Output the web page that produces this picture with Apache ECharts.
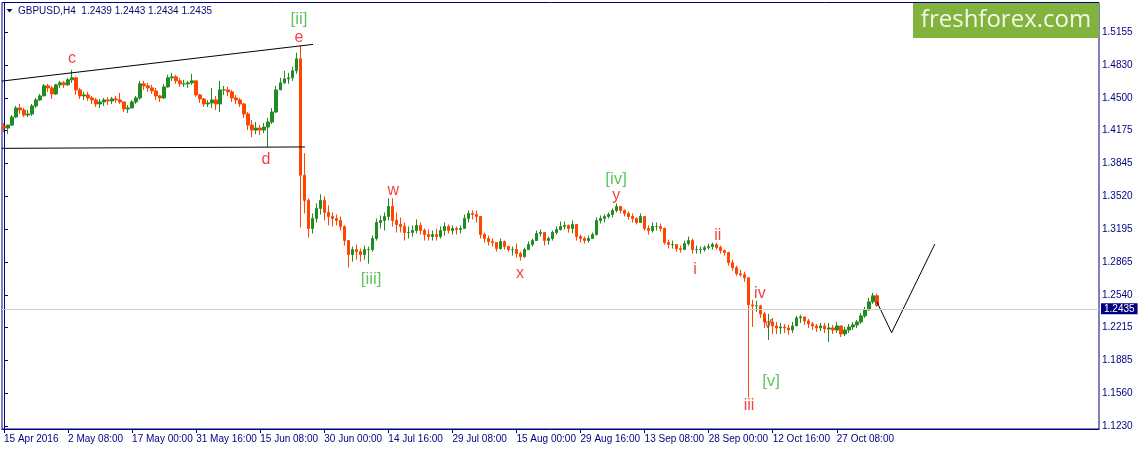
<!DOCTYPE html>
<html><head><meta charset="utf-8">
<script src="https://cdn.jsdelivr.net/npm/echarts@6/dist/echarts.min.js"></script>
<style>html,body{margin:0;padding:0;background:#fff}#c{width:1139px;height:450px}</style>
</head><body><div id="c"></div>
<script>
const tickLabels = ['15 Apr 2016','2 May 08:00','17 May 00:00','31 May 16:00','15 Jun 08:00','30 Jun 00:00','14 Jul 16:00','29 Jul 08:00','15 Aug 00:00','29 Aug 16:00','13 Sep 08:00','28 Sep 00:00','12 Oct 16:00','27 Oct 08:00'];
const yTicks = [1.5155,1.4830,1.4500,1.4175,1.3845,1.3520,1.3195,1.2865,1.2540,1.2215,1.1885,1.1560,1.1230];
const headerText = 'GBPUSD,H4  1.2439 1.2443 1.2434 1.2435';
const lastPrice = 1.2435;
const firstOpen = 1.422;
const closes = [
1.420,1.423,1.431,1.440,1.438,1.433,1.434,1.442,1.448,1.452,
1.462,1.460,1.454,1.463,1.465,1.463,1.468,1.470,1.458,1.452,
1.453,1.450,1.448,1.444,1.446,1.448,1.447,1.449,1.448,1.446,
1.439,1.440,1.446,1.450,1.464,1.462,1.460,1.457,1.452,1.450,
1.461,1.470,1.471,1.467,1.464,1.464,1.465,1.467,1.453,1.449,
1.444,1.445,1.448,1.444,1.458,1.458,1.456,1.450,1.448,1.444,
1.434,1.423,1.418,1.420,1.418,1.421,1.426,1.436,1.458,1.465,
1.469,1.470,1.477,1.489,1.373,1.348,1.320,1.330,1.340,1.348,
1.336,1.332,1.330,1.328,1.322,1.308,1.294,1.299,1.297,1.294,
1.299,1.299,1.310,1.326,1.328,1.332,1.342,1.328,1.324,1.322,
1.316,1.316,1.318,1.323,1.318,1.314,1.312,1.314,1.312,1.318,
1.322,1.318,1.320,1.319,1.320,1.330,1.335,1.334,1.332,1.314,
1.310,1.307,1.306,1.300,1.307,1.302,1.299,1.299,1.295,1.292,
1.299,1.304,1.308,1.315,1.316,1.308,1.310,1.316,1.319,1.322,
1.323,1.320,1.324,1.312,1.310,1.308,1.310,1.314,1.328,1.330,
1.332,1.334,1.338,1.342,1.338,1.335,1.332,1.330,1.326,1.332,
1.320,1.318,1.322,1.322,1.320,1.306,1.304,1.304,1.300,1.299,
1.305,1.308,1.299,1.299,1.299,1.301,1.302,1.304,1.301,1.298,
1.296,1.286,1.281,1.275,1.274,1.271,1.244,1.243,1.243,1.235,
1.227,1.227,1.223,1.221,1.222,1.221,1.219,1.223,1.231,1.232,
1.228,1.225,1.223,1.221,1.223,1.220,1.221,1.219,1.223,1.215,
1.219,1.222,1.224,1.227,1.233,1.239,1.247,1.253,1.2435];
const highs = [
1.425,1.423,1.433,1.442,1.444,1.440,1.438,1.444,1.450,1.454,
1.464,1.464,1.462,1.464,1.467,1.467,1.470,1.478,1.471,1.460,
1.456,1.456,1.452,1.450,1.449,1.450,1.451,1.451,1.452,1.455,
1.445,1.443,1.448,1.452,1.467,1.467,1.465,1.463,1.460,1.453,
1.464,1.473,1.475,1.473,1.470,1.468,1.467,1.474,1.467,1.454,
1.450,1.448,1.460,1.452,1.467,1.462,1.461,1.458,1.453,1.450,
1.445,1.436,1.428,1.426,1.423,1.425,1.430,1.440,1.462,1.470,
1.477,1.475,1.481,1.495,1.502,1.395,1.350,1.335,1.345,1.354,
1.352,1.343,1.336,1.334,1.332,1.323,1.308,1.302,1.304,1.300,
1.303,1.302,1.313,1.330,1.333,1.336,1.350,1.350,1.336,1.331,
1.326,1.322,1.323,1.329,1.326,1.320,1.319,1.318,1.320,1.322,
1.326,1.324,1.323,1.322,1.323,1.334,1.338,1.338,1.338,1.332,
1.316,1.313,1.310,1.306,1.310,1.308,1.303,1.302,1.305,1.297,
1.301,1.307,1.310,1.318,1.319,1.314,1.312,1.318,1.322,1.327,
1.327,1.324,1.328,1.323,1.314,1.312,1.313,1.316,1.331,1.333,
1.334,1.336,1.340,1.345,1.342,1.339,1.337,1.335,1.331,1.335,
1.332,1.323,1.326,1.326,1.325,1.321,1.309,1.308,1.304,1.303,
1.308,1.312,1.310,1.303,1.302,1.303,1.305,1.306,1.306,1.303,
1.299,1.297,1.289,1.283,1.279,1.277,1.271,1.249,1.248,1.244,
1.237,1.235,1.231,1.227,1.226,1.225,1.224,1.227,1.233,1.234,
1.232,1.230,1.227,1.225,1.226,1.226,1.226,1.224,1.227,1.221,
1.222,1.225,1.227,1.229,1.236,1.242,1.251,1.256,1.255];
const lows = [
1.416,1.414,1.422,1.430,1.434,1.431,1.431,1.432,1.440,1.447,
1.452,1.456,1.449,1.453,1.460,1.460,1.462,1.465,1.453,1.449,
1.448,1.447,1.444,1.441,1.440,1.442,1.443,1.444,1.445,1.444,
1.436,1.435,1.440,1.444,1.448,1.458,1.456,1.454,1.448,1.446,
1.449,1.460,1.467,1.464,1.461,1.461,1.460,1.463,1.451,1.445,
1.441,1.441,1.440,1.438,1.436,1.453,1.452,1.446,1.444,1.441,
1.430,1.418,1.411,1.414,1.413,1.415,1.401,1.424,1.435,1.458,
1.464,1.464,1.467,1.474,1.321,1.335,1.311,1.315,1.326,1.334,
1.328,1.323,1.322,1.323,1.318,1.303,1.281,1.287,1.289,1.287,
1.289,1.285,1.297,1.308,1.320,1.318,1.328,1.322,1.316,1.316,
1.308,1.310,1.312,1.315,1.314,1.308,1.308,1.308,1.308,1.310,
1.313,1.315,1.314,1.314,1.315,1.320,1.326,1.329,1.326,1.310,
1.306,1.303,1.302,1.297,1.299,1.299,1.297,1.293,1.291,1.288,
1.291,1.299,1.302,1.308,1.312,1.303,1.304,1.308,1.314,1.318,
1.319,1.316,1.315,1.308,1.306,1.305,1.306,1.310,1.313,1.325,
1.326,1.330,1.331,1.336,1.335,1.332,1.329,1.326,1.324,1.326,
1.318,1.314,1.316,1.318,1.317,1.304,1.300,1.300,1.297,1.296,
1.299,1.303,1.295,1.295,1.295,1.297,1.299,1.299,1.299,1.295,
1.293,1.283,1.278,1.273,1.272,1.267,1.152,1.222,1.237,1.231,
1.221,1.209,1.215,1.215,1.215,1.216,1.214,1.216,1.223,1.226,
1.224,1.221,1.219,1.217,1.218,1.216,1.207,1.215,1.216,1.212,
1.213,1.216,1.219,1.221,1.225,1.231,1.238,1.245,1.242];
// overlay lines in candle-index units (x) and price (y)
const upperTrend = [[-0.5,1.4668],[77.2,1.5033]];
const lowerTrend = [[-0.5,1.3998],[75.2,1.4012]];
const forecast = [[218,1.2471],[221.7,1.2163],[232.5,1.3045]];
const waveText = ['c','[ii]','e','d','w','[iii]','x','[iv]','y','i','ii','iv','v','[v]','iii'];
const waveX = [17,73.7,73.7,65.4,97.2,91.7,128.9,152.9,152.9,172.6,178.3,188.8,190.8,191.6,186.1];
const waveY = [1.4894,1.5281,1.5102,1.389,1.3581,1.2697,1.2756,1.3691,1.3532,1.2786,1.3134,1.2548,1.2249,1.1683,1.1434];

const N_CAT = 274, STEP = 16;
const categories = [];
for (let i = 0; i < N_CAT; i++) categories.push(i % STEP === 0 && tickLabels[i / STEP] ? tickLabels[i / STEP] : '');
const ohlc = closes.map((c, i) => [i === 0 ? firstOpen : closes[i - 1], c, lows[i], highs[i]]);
const isTick = (i) => i % STEP === 0 && i / STEP < tickLabels.length;
const NAVY = '#000080', UP = '#228b22', DOWN = '#ff4500', RED = '#ee1111', GREEN = '#3cb43c';
const FONT = '"Liberation Sans", Arial, sans-serif';

const chart = echarts.init(document.getElementById('c'));
chart.setOption({
  animation: false,
  backgroundColor: '#fff',
  grid: {left: 2, right: 40, top: 2.5, bottom: 21, show: true, borderColor: NAVY, borderWidth: 1},
  xAxis: [{
    type: 'category', data: categories, boundaryGap: true,
    axisLine: {show: true, lineStyle: {color: NAVY}},
    axisTick: {show: true, interval: isTick, alignWithLabel: true, length: 4, lineStyle: {color: NAVY}},
    axisLabel: {interval: isTick, align: 'left', color: NAVY, fontSize: 10, fontFamily: FONT, margin: 5},
    splitLine: {show: false}
  }, {
    type: 'value', min: -0.5, max: N_CAT - 0.5, show: false
  }],
  yAxis: {
    type: 'value', position: 'right', min: 1.1204, max: 1.5450, scale: true,
    axisLine: {show: true, lineStyle: {color: NAVY}},
    axisTick: {show: true, length: 4, customValues: yTicks, lineStyle: {color: NAVY}},
    axisLabel: {customValues: yTicks, formatter: v => v.toFixed(4), color: NAVY, fontSize: 10, fontFamily: FONT, margin: 3},
    splitLine: {show: false}
  },
  series: [{
    type: 'candlestick', data: ohlc, barWidth: 3,
    itemStyle: {color: UP, color0: DOWN, borderColor: UP, borderColor0: DOWN, borderWidth: 1},
    markLine: {
      symbol: 'none', silent: true, animation: false,
      data: [{yAxis: lastPrice}],
      lineStyle: {color: '#cccccc', type: 'solid', width: 1},
      label: {position: 'end', formatter: lastPrice.toFixed(4), backgroundColor: NAVY, color: '#fff',
        padding: [1, 3, 0, 3], fontSize: 10, fontFamily: FONT, distance: 2}
    }
  }, {
    type: 'line', xAxisIndex: 1, data: upperTrend, symbol: 'none', lineStyle: {color: '#000', width: 1}, silent: true
  }, {
    type: 'line', xAxisIndex: 1, data: lowerTrend, symbol: 'none', lineStyle: {color: '#000', width: 1}, silent: true
  }, {
    type: 'line', xAxisIndex: 1, data: forecast, symbol: 'none', lineStyle: {color: '#000', width: 1}, silent: true
  }, {
    type: 'scatter', xAxisIndex: 1, symbolSize: 1, itemStyle: {color: 'rgba(0,0,0,0)'}, silent: true, z: 5,
    data: waveText.map((t, i) => {
      const g = t.charAt(0) === '[';
      return {value: [waveX[i], waveY[i]], label: {show: true, position: 'inside', formatter: t,
        color: g ? GREEN : RED, fontSize: g ? 17 : 16, fontFamily: FONT}};
    })
  }],
  graphic: [
    {type: 'polygon', shape: {points: [[6.5, 9], [12.5, 9], [9.5, 12.5]]}, style: {fill: '#0a0a50'}},
    {type: 'text', x: 18, y: 11, style: {text: headerText, fill: '#0a0a6e', font: '10px ' + FONT, textVerticalAlign: 'middle'}},
    {type: 'rect', shape: {x: 913, y: 3, width: 186, height: 35}, style: {fill: '#82b33c'}},
    {type: 'text', x: 1006, y: 20, style: {text: 'freshforex.com', fill: '#f3f8e9', font: '24px "Open Sans", sans-serif', textAlign: 'center', textVerticalAlign: 'middle'}}
  ]
});
</script></body></html>
